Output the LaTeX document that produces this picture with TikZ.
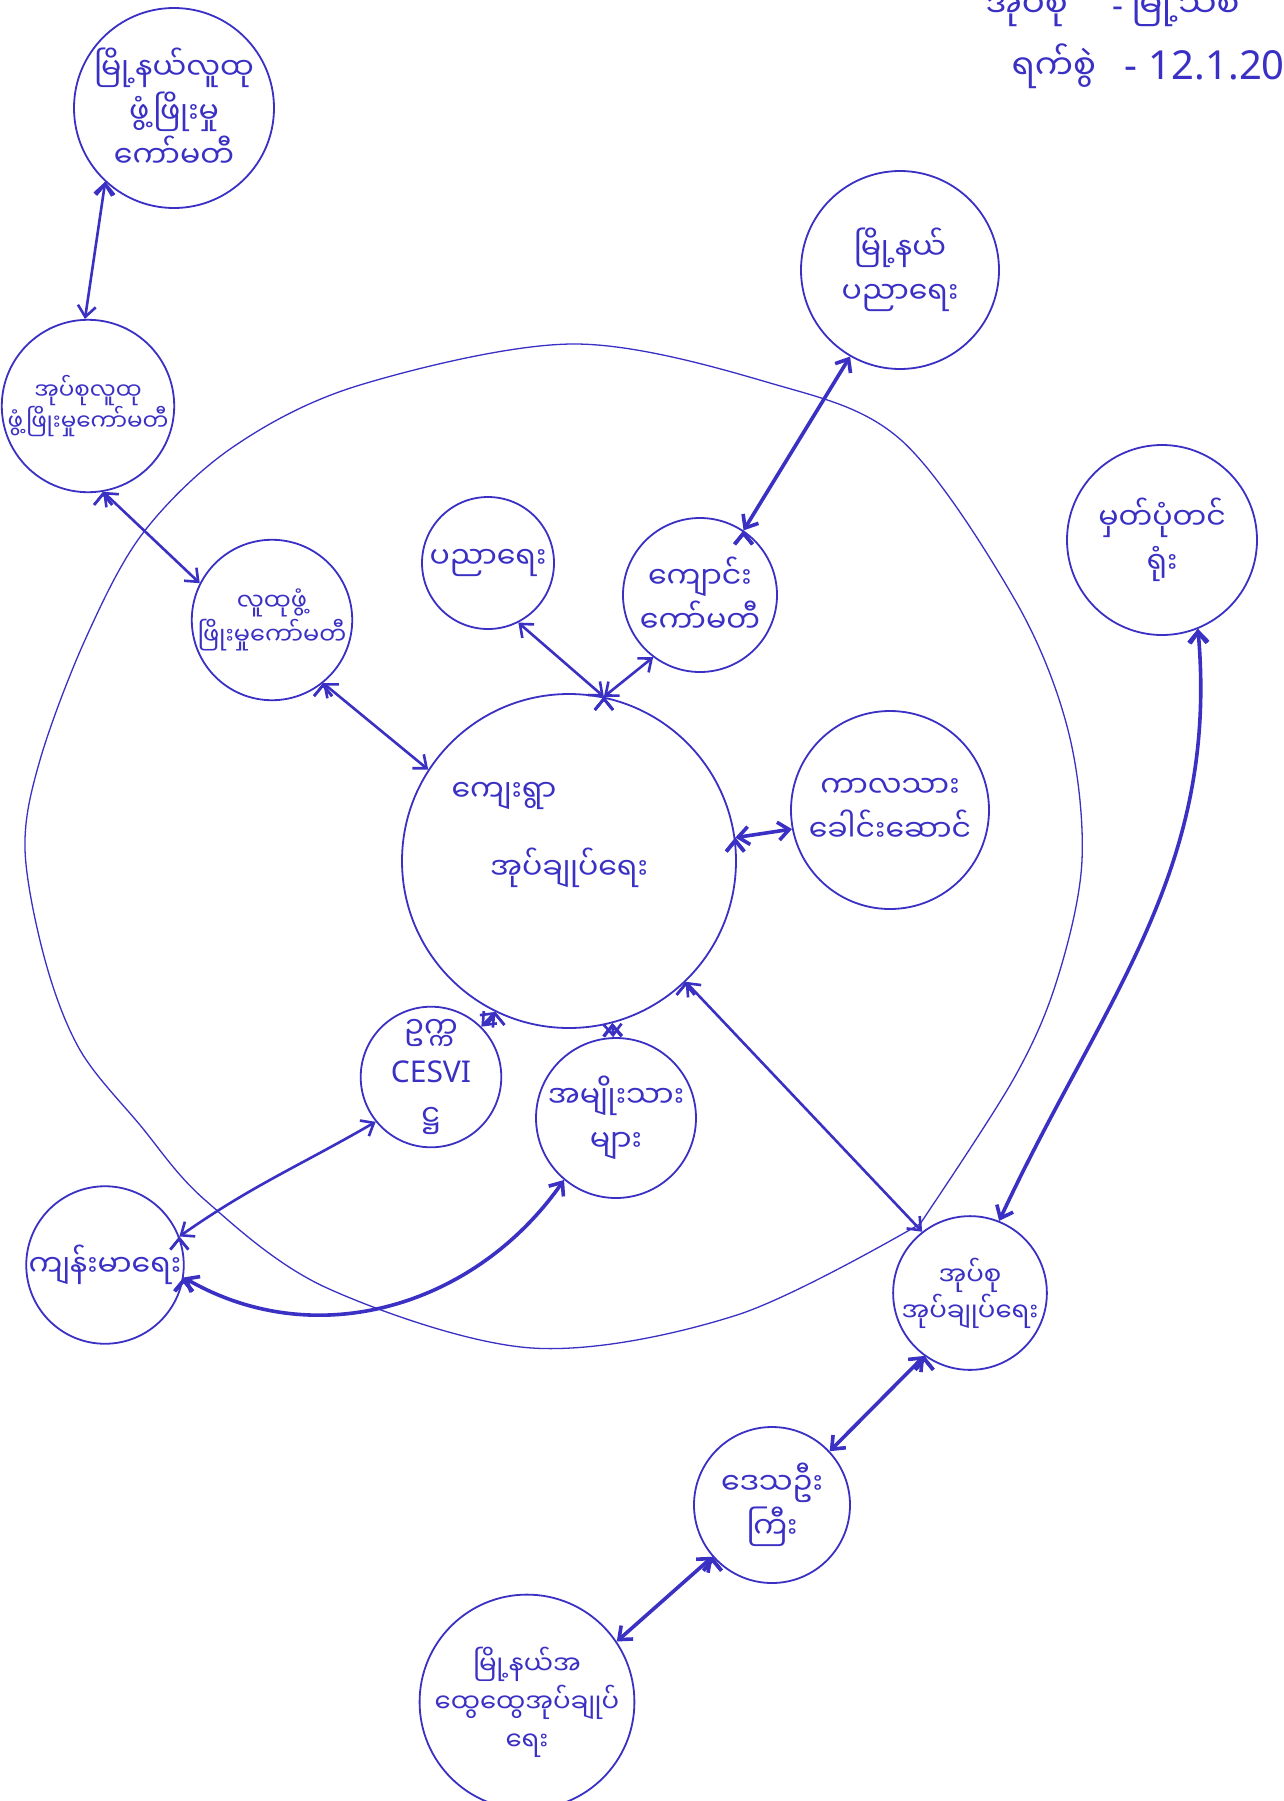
\documentclass[tikz,border=0pt]{standalone}
\usepackage{fontspec}
\setmainfont{Noto Sans}
\newfontfamily\mya[Script=Myanmar]{Noto Sans Myanmar UI}
\usetikzlibrary{positioning,arrows.meta}
\definecolor{ink}{RGB}{58,48,196}

\begin{document}
\begin{tikzpicture}
[x=1pt,y=-1pt,on grid,
 bubble/.style={draw=ink,circle,line width=1.8pt,text=ink,align=center,inner sep=0pt,
   font=\mya\fontsize{30}{44}\selectfont},
 link/.style={draw=ink,line width=2.6pt,
   {Straight Barb[length=11pt,width=18pt]}-{Straight Barb[length=11pt,width=18pt]}},
 heavy/.style={link,line width=3.6pt}]
\useasboundingbox[fill=white] (0,0) rectangle (1284,1801);
% header
\node[text=ink,anchor=base west,font=\mya\fontsize{34}{40}\selectfont] (hdrplace) at (982,18) {အုပ်စု\hspace{45pt}{\normalfont -}\hspace{8pt}မြို့သစ်};
\node[text=ink,anchor=base west,font=\mya\fontsize{34}{40}\selectfont] (hdrdate) at (1008,80) {ရက်စွဲ\hspace{28pt}{\normalfont\fontsize{40}{44}\selectfont -\hspace{12pt}12.1.2020}};
% village boundary
\draw[ink,line width=1.3pt] plot[smooth,tension=0.55] coordinates {(920,1224) (1013,1080) (1057,980)
  (1082,860) (1068,730) (1015,600) (901,440) (770,383) (573,344) (360,385) (233,447) (143,533)
  (85,640) (40,760) (25,849) (45,960) (80,1050) (140,1125) (205,1200) (327,1288) (532,1348)
  (737,1315) (920,1224)};
% nodes
\node[bubble,minimum size=334pt] (village) at (569,861) {ကျေးရွာ\hspace*{130pt}\\[34pt]အုပ်ချုပ်ရေး\\[16pt]~};
\node[bubble,minimum size=156pt,font=\mya\fontsize{23}{30}\selectfont,above left=455pt and 481pt of village] (vtdc) {အုပ်စုလူထု\\ဖွံ့ဖြိုးမှုကော်မတီ};
\node[bubble,minimum size=200pt,above right=298pt and 86pt of vtdc] (tsdc) {မြို့နယ်လူထု\\ဖွံ့ဖြိုးမှု\\ကော်မတီ};
\node[bubble,minimum size=156pt,font=\mya\fontsize{24}{34}\selectfont,above left=241pt and 297pt of village] (cdc) {လူထုဖွံ့\\ဖြိုးမှုကော်မတီ};
\node[bubble,minimum size=132pt,above left=298pt and 81pt of village] (educ) {ပညာရေး};
\node[bubble,minimum size=154pt,above right=266pt and 131pt of village] (school) {ကျောင်း\\ကော်မတီ};
\node[bubble,minimum size=198pt,above right=591pt and 331pt of village] (tsedu) {မြို့နယ်\\ပညာရေး};
\node[bubble,minimum size=198pt,above right=51pt and 321pt of village] (youth) {ကာလသား\\ခေါင်းဆောင်};
\node[bubble,minimum size=190pt,above right=321pt and 593pt of village] (regoff) {မှတ်ပုံတင်\\ရုံး};
\node[bubble,minimum size=132pt,below left=216pt and 138pt of village] (cesvi) {ဥက္က\\{\normalfont CESVI}\\ဋ္ဌ};
\node[bubble,minimum size=132pt,below right=257pt and 47pt of village] (men) {အမျိုးသား\\များ};
\node[bubble,minimum size=156pt,below left=404pt and 464pt of village] (health) {ကျန်းမာရေး};
\node[bubble,minimum size=132pt,font=\mya\fontsize{26}{36}\selectfont,below right=432pt and 401pt of village] (vtadmin) {အုပ်စု\\အုပ်ချုပ်ရေး};
\node[bubble,minimum size=156pt,below left=212pt and 198pt of vtadmin] (elders) {ဒေသဦး\\ကြီး};
\node[bubble,minimum size=196pt,font=\mya\fontsize{26}{38}\selectfont,below left=197pt and 245pt of elders] (gad) {မြို့နယ်အ\\ထွေထွေအုပ်ချုပ်\\ရေး};
% links
\path[link] (tsdc.227) edge (vtdc.92);
\path[link] (vtdc.280) edge (cdc.153);
\path[link] (cdc.-51) edge (village.147);
\path[link] (village.78) edge (educ.-63);
\path[link] (village.78) edge (school.233);
\path[heavy] (school.56) edge (tsedu.240);
\path[heavy] (village.8) edge (youth.191);
\path[link] (village.244) edge (cesvi.45);
\path[link] (village.285) edge (men.92);
\path[link] (village.314) edge (vtadmin.128);
\path[link] (health.21) edge[out=35,in=210] (cesvi.219);
\path[heavy] (health.-9) edge[out=-30,in=235] (men.230);
\path[heavy] (regoff.292) edge[out=-85,in=65] (vtadmin.68);
\path[heavy] (vtadmin.234) edge (elders.43);
\path[heavy] (elders.221) edge (gad.34);
\end{tikzpicture}
\end{document}
